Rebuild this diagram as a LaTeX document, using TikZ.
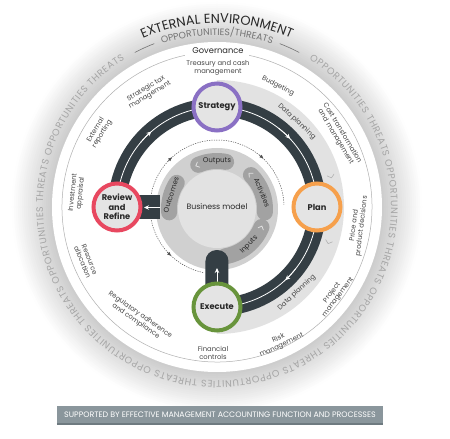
\documentclass[tikz,border=0pt]{standalone}
\usepackage{fontspec}
\setmainfont{Poppins}
\usetikzlibrary{decorations.text,arrows.meta}
\definecolor{bandc}{RGB}{52,62,68}
\definecolor{cfill}{RGB}{228,228,228}
\definecolor{cstrat}{RGB}{138,112,196}
\definecolor{cplan}{RGB}{246,160,76}
\definecolor{cexec}{RGB}{104,148,60}
\definecolor{crev}{RGB}{232,72,96}
\definecolor{txtd}{RGB}{40,40,40}
\definecolor{labc}{RGB}{70,70,70}
\definecolor{ringt}{RGB}{165,165,165}
\definecolor{headg}{RGB}{115,115,115}
\definecolor{sectc}{RGB}{226,226,226}
\definecolor{discc}{RGB}{208,208,208}
\definecolor{innerc}{RGB}{226,226,226}
\definecolor{pillc}{RGB}{162,162,162}
\definecolor{chevc}{RGB}{225,225,225}
\definecolor{bannerc}{RGB}{138,150,156}
\definecolor{bannerd}{RGB}{110,122,128}
\definecolor{dashc}{RGB}{80,80,80}
\definecolor{thinc}{RGB}{175,175,175}
\tikzset{
 phase/.style={circle, minimum size=47, inner sep=0, fill=cfill, line width=4, font=\bfseries\fontsize{8.3}{9.3}\selectfont, text=txtd, align=center},
 lab/.style={font=\fontsize{6.8}{7.6}\selectfont, text=labc, align=center, inner sep=0},
 pilllab/.style={font=\fontsize{7}{7}\selectfont, text=txtd, inner sep=0},
 bandline/.style={draw=bandc, line width=18},
 whiteline/.style={draw=white, line width=0.8},
 whitetip/.style={draw=white, line width=0.8, -{Stealth[length=5,width=4.5]}},
 dashline/.style={draw=dashc, line width=0.5, dash pattern=on 1.2pt off 1.2pt},
 dashtip/.style={draw=dashc, line width=0.5, -{Latex[length=4,width=3.5]}},
 pill/.style={draw=pillc, line width=16, line cap=round},
 chev/.style={draw=chevc, line width=0.8, line cap=round, line join=round},
 schev/.style={draw=gray!60, line width=0.6, line cap=round, line join=round},
}
\begin{document}
\begin{tikzpicture}[x=1pt,y=1pt]
\useasboundingbox (-217,-232) rectangle (233,207);
\fill[white] (-217,-232) rectangle (233,207);
% outer fading ring
\foreach \i in {0,...,19}{
  \pgfmathsetmacro\rr{205-2*\i}
  \pgfmathsetmacro\pp{0.5+\i*1.0}
  \fill[black!\pp] (0,0) circle (\rr);
}
\fill[white] (0,0) circle (165);
% ring text
\path[decorate, decoration={text along path, text align=fit to path, text color=ringt,
  text={|\fontsize{9.5}{9.5}\selectfont|OPPORTUNITIES THREATS OPPORTUNITIES THREATS OPPORTUNITIES THREATS OPPORTUNITIES THREATS OPPORTUNITIES THREATS OPPORTUNITIES THREATS OPPORTUNITIES THREATS}}]
  (58:174) arc[start angle=58, end angle=-238, radius=174];
% heading
\path[decorate, decoration={text along path, text align=center, text color=txtd,
  text={|\fontsize{13}{13}\selectfont|EXTERNAL ENVIRONMENT}}]
  (135:184) arc[start angle=135, end angle=45, radius=184];
\path[decorate, decoration={text along path, text align=center, text color=headg,
  text={|\fontsize{9.3}{9.3}\selectfont|OPPORTUNITIES/THREATS}}]
  (125:172) arc[start angle=125, end angle=55, radius=172];
\draw[headg, line width=0.6] (118:175) arc[start angle=118, end angle=111, radius=175];
\draw[headg, line width=0.6] (69:175) arc[start angle=69, end angle=62, radius=175];
% thin circle + governance
\draw[thinc, line width=0.5] (78:155) arc[start angle=78, end angle=-258, radius=155];
\node[font=\fontsize{8.3}{8.3}\selectfont, text=txtd] (gov) at (1,156) {Governance};
% outer labels
\node[lab] (treasury) at (1,139) {Treasury and cash\\management};
\node[lab, rotate=-27] (budget) at (61,121) {Budgeting};
\node[lab, rotate=-59] (cost) at (122,72) {Cost transformation\\and management};
\node[lab, rotate=83] (price) at (141,-19) {Price and\\product decisions};
\node[lab, rotate=53] (project) at (118,-88) {Project\\management};
\node[lab, rotate=25] (risk) at (63,-135) {Risk\\management};
\node[lab] (fin) at (-4,-146) {Financial\\controls};
\node[lab, rotate=-35] (reg) at (-79,-111) {Regulatory adherence\\and compliance};
\node[lab, rotate=-68] (res) at (-131,-54) {Resource\\allocation};
\node[lab, rotate=84] (inv) at (-140,14) {Investment\\appraisal};
\node[lab, rotate=58] (ext) at (-118,75) {External\\reporting};
\node[lab, rotate=31] (stx) at (-69,115) {Strategic tax\\management};
% light grey sector on the right
\fill[sectc] (90:108) arc[start angle=90, end angle=-90, radius=108] -- (-90:127) arc[start angle=-90, end angle=90, radius=127] -- cycle;
\draw[schev, shift={(14.5:118)}, rotate=-75.5] (-2.5,3.5) -- (0.5,0) -- (-2.5,-3.5);
\draw[schev, shift={(-18:117)}, rotate=-108] (-2.5,3.5) -- (0.5,0) -- (-2.5,-3.5);
\node[lab, rotate=-43] (dp1) at (47:117) {Data planning};
\node[lab, rotate=43] (dp2) at (-47:117) {Data planning};
% positions of the phases
\coordinate (pS) at (90:100);
\coordinate (pP) at (0:100);
\coordinate (pE) at (-90:100);
\coordinate (pR) at (180:100);
% dark band
\draw[bandline] (pR) arc[start angle=180, end angle=-90, radius=100];
\draw[whiteline] (pR) arc[start angle=180, end angle=-90, radius=100];
\draw[whitetip] (140:100) arc[start angle=140, end angle=131, radius=100];
\draw[whitetip] (52:100) arc[start angle=52, end angle=43, radius=100];
\draw[whitetip] (-38:100) arc[start angle=-38, end angle=-47, radius=100];
% dashed circle
\draw[dashline] (183:67) arc[start angle=183, end angle=2, radius=67];
\draw[dashline] (177:67) arc[start angle=177, end angle=258, radius=67];
\draw[dashtip] (137:67) arc[start angle=137, end angle=132, radius=67];
\draw[dashtip] (51:67) arc[start angle=51, end angle=46, radius=67];
\draw[dashtip] (222:67) arc[start angle=222, end angle=227, radius=67];
% business model disc
\fill[discc] (0,-2) circle (61);
\fill[innerc] (0,-2) circle (39);
\node[font=\fontsize{7.8}{8}\selectfont, text=txtd] (bm) at (0,0) {Business model};
% bar to review
\fill[bandc] (-101,-12.5) rectangle (-57,11.5);
\draw[whitetip] (-57,-0.5) -- (-73,-0.5);
% pills
\begin{scope}[shift={(0,-2)}]
\draw[pill] (147:48) arc[start angle=147, end angle=184, radius=48];
\draw[pill] (79:48) arc[start angle=79, end angle=113, radius=48];
\draw[pill] (-4:48) arc[start angle=-4, end angle=45, radius=48];
\draw[pill] (-80:48) arc[start angle=-80, end angle=-22, radius=48];
\draw[chev, shift={(115:48)}, rotate=205] (-2,2.8) -- (1,0) -- (-2,-2.8);
\draw[chev, shift={(47:48)}, rotate=137] (-2,2.8) -- (1,0) -- (-2,-2.8);
\draw[chev, shift={(-22:48)}, rotate=68] (-2,2.8) -- (1,0) -- (-2,-2.8);
\node[pilllab, rotate=-2] (outputs) at (90:48) {Outputs};
\node[pilllab, rotate=-68] (activities) at (20:48) {Activities};
\node[pilllab, rotate=45] (inputs) at (-48:48) {Inputs};
\node[pilllab, rotate=72] (outcomes) at (163:48) {Outcomes};
\end{scope}
% pillar to execute
\fill[bandc, rounded corners=11] (-11.5,-100) rectangle (11.5,-43);
\draw[whitetip] (0,-80) -- (0,-61);
% phase circles
\node[phase, draw=cstrat] (strategy) at (pS) {Strategy};
\node[phase, draw=cplan] (plan) at (pP) {Plan};
\node[phase, draw=cexec] (execute) at (pE) {Execute};
\node[phase, draw=crev] (review) at (pR) {Review\\and\\Refine};
% banner
\fill[bannerc] (-160,-199) rectangle (166,-217);
\draw[bannerd, line width=1.2] (-160,-217) -- (166,-217);
\node[font=\fontsize{7.9}{7.9}\selectfont, text=white] (banner) at (3,-208) {SUPPORTED BY EFFECTIVE MANAGEMENT ACCOUNTING FUNCTION AND PROCESSES};
\end{tikzpicture}
\end{document}
